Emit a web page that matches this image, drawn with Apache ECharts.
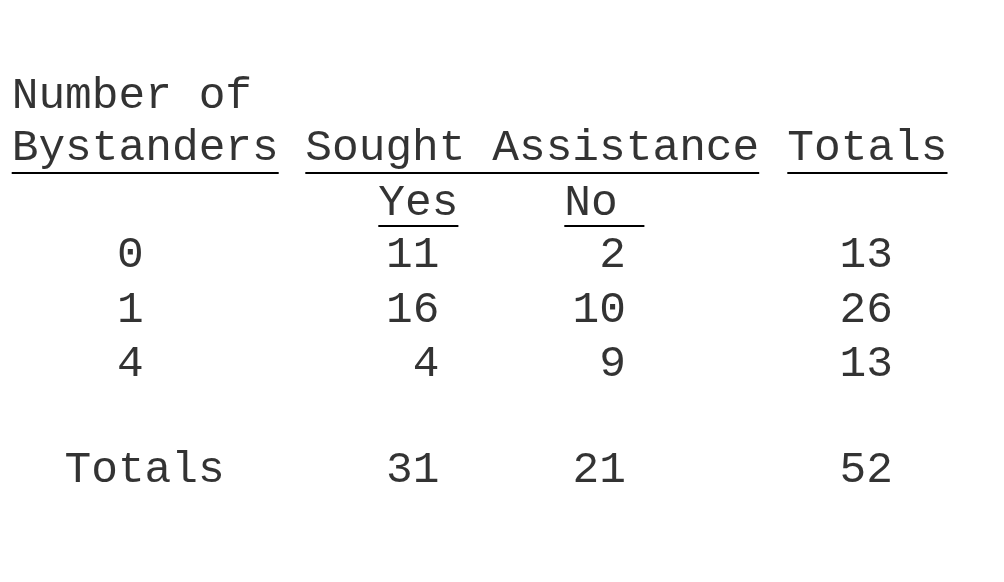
<!DOCTYPE html>
<html lang="en">
<head>
    <meta charset="UTF-8">
    <title>Bystanders table</title>
    <script src="https://cdn.jsdelivr.net/npm/echarts@6/dist/echarts.min.js"></script>
</head>
<body style="padding: 0; margin: 0; background: #fff">
    <div id="main" style="width: 1004px; height: 582px;"></div>
</body>
<script>
    // table content
    var headTop = 'Number of';
    var headers = ['Bystanders', 'Sought Assistance', 'Totals'];
    var subHeaders = ['Yes', 'No'];
    var bystanders = ['0', '1', '4'];
    var soughtYes = [11, 16, 4];
    var soughtNo = [2, 10, 9];
    var rowTotals = [13, 26, 13];
    var totalLabel = 'Totals';
    var colTotals = [31, 21, 52];

    // layout (pixel space of the hidden axes)
    var fontSize = 44.5;
    var charW = fontSize * 0.6;
    var midShift = fontSize * 0.266;
    var rowBase = [108.3, 160, 215, 267.3, 321.7, 375.7, 482.3];
    var headerLeft = [11.7, 305.3, 787.3];
    var subLeft = [378.3, 564.3];
    var labelCenter = 130.3;
    var totalLeft = 64.5;
    var numRight = [439.5, 626, 893];

    function y(row) { return rowBase[row] - midShift; }

    var leftCells = [[headerLeft[0], y(0), headTop]];
    headers.forEach(function (h, i) { leftCells.push([headerLeft[i], y(1), h]); });
    subHeaders.forEach(function (h, i) { leftCells.push([subLeft[i], y(2), h]); });
    leftCells.push([totalLeft, y(6), totalLabel]);

    var centerCells = bystanders.map(function (b, i) { return [labelCenter, y(3 + i), b]; });

    var rightCells = [];
    bystanders.forEach(function (b, i) {
        rightCells.push([numRight[0], y(3 + i), String(soughtYes[i])]);
        rightCells.push([numRight[1], y(3 + i), String(soughtNo[i])]);
        rightCells.push([numRight[2], y(3 + i), String(rowTotals[i])]);
    });
    colTotals.forEach(function (v, i) { rightCells.push([numRight[i], y(6), String(v)]); });

    var underlines = [];
    headers.forEach(function (h, i) {
        underlines.push({coords: [[headerLeft[i], 172.3], [headerLeft[i] + h.length * charW, 172.3]]});
    });
    subHeaders.forEach(function (h, i) {
        underlines.push({coords: [[subLeft[i], 225.5], [subLeft[i] + 3 * charW, 225.5]]});
    });

    function textSeries(data, align) {
        return {
            type: 'scatter',
            symbolSize: 0,
            itemStyle: {color: 'transparent'},
            silent: true,
            data: data,
            label: {
                show: true,
                position: [0, 0],
                align: align,
                verticalAlign: 'middle',
                color: '#000',
                fontFamily: "'Courier New', 'Liberation Mono', monospace",
                fontSize: fontSize,
                formatter: function (p) { return p.value[2]; }
            }
        };
    }

    var myChart = echarts.init(document.getElementById('main'));
    var option = {
        animation: false,
        backgroundColor: '#fff',
        grid: {left: 0, right: 0, top: 0, bottom: 0},
        xAxis: {type: 'value', min: 0, max: 1004, show: false},
        yAxis: {type: 'value', min: 0, max: 582, inverse: true, show: false},
        series: [
            textSeries(leftCells, 'left'),
            textSeries(centerCells, 'center'),
            textSeries(rightCells, 'right'),
            {
                type: 'lines',
                coordinateSystem: 'cartesian2d',
                silent: true,
                lineStyle: {color: '#000', width: 2, opacity: 1},
                data: underlines
            }
        ]
    };
    myChart.setOption(option);
</script>
</html>
